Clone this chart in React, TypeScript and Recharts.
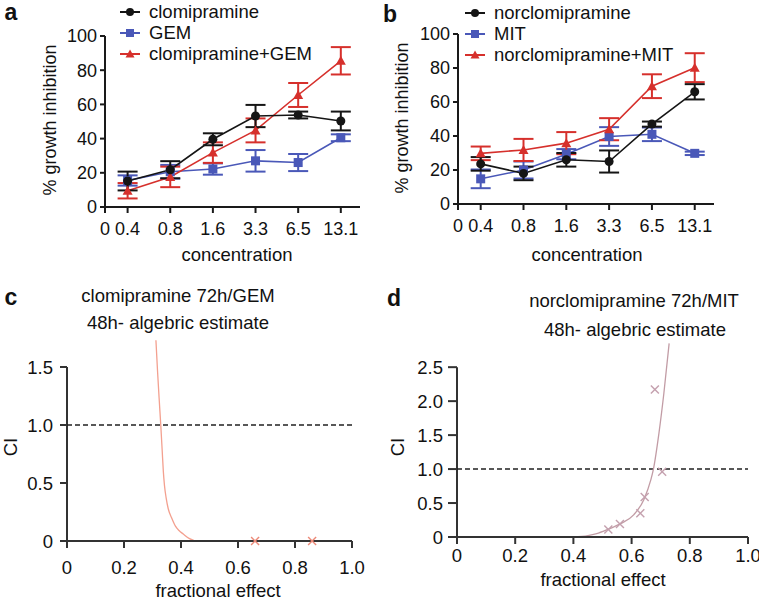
import React from 'react'
import {
  ComposedChart,
  Line,
  Scatter,
  XAxis,
  YAxis,
  ErrorBar,
  ReferenceLine
} from 'recharts'

const FONT = 'Arial, "Liberation Sans", Helvetica, sans-serif'
const BLACK = '#151515'
const BLUE = '#4a58b8'
const RED = '#d6302c'

const concentrations = ['0.4', '0.8', '1.6', '3.3', '6.5', '13.1']

// panel a
const clomipramine = [15.2, 21.8, 39.6, 53.2, 53.8, 50.3]
const clomipramineErr = [5.5, 5, 3.5, 6.5, 2, 5.5]
const gem = [15.5, 20.6, 22.2, 27, 26, 40.5]
const gemErr = [3, 4, 3.3, 6.3, 5, 2]
const clomiGem = [9.5, 17.6, 31.8, 44.8, 65.5, 85.5]
const clomiGemErr = [4.5, 6, 6, 7, 7, 8]

// panel b
const norclomipramine = [23.6, 18, 26, 25, 47, 66]
const norclomipramineErr = [4, 4, 4, 6.5, 1.5, 4.5]
const mit = [14.8, 20, 29.3, 39.7, 41, 29.8]
const mitErr = [5.5, 5, 3, 5.5, 4, 1]
const norclomiMit = [29.8, 31.8, 35.8, 44, 69.3, 80.2]
const norclomiMitErr = [4, 6.5, 6.5, 6.5, 7, 8.5]

// panel c (CI vs fractional effect)
const cCurveFe = [0.312, 0.318, 0.324, 0.329, 0.334, 0.338, 0.342, 0.348, 0.355, 0.367, 0.38, 0.393, 0.408, 0.43, 0.45]
const cCurveCi = [1.73, 1.45, 1.2, 1.0, 0.78, 0.6, 0.48, 0.37, 0.28, 0.2, 0.13, 0.09, 0.06, 0.02, 0]
const cPointFe = [0.66, 0.86]
const cPointCi = [0, 0]

// panel d
const dCurveFe = [0.4, 0.45, 0.48, 0.516, 0.562, 0.608, 0.642, 0.666, 0.675, 0.694, 0.711, 0.729]
const dCurveCi = [0, 0.02, 0.05, 0.108, 0.196, 0.33, 0.55, 0.84, 1.0, 1.53, 2.12, 2.85]
const dPointFe = [0.52, 0.56, 0.63, 0.645, 0.68, 0.705]
const dPointCi = [0.11, 0.19, 0.35, 0.59, 2.17, 0.96]

const growthTicks = [0, 20, 40, 60, 80, 100]
const feTicks = [0, 0.2, 0.4, 0.6, 0.8, 1.0]
const X_MIN = -0.53

type Shape = 'circle' | 'square' | 'triangle'

const Marker = ({ cx, cy, shape, color, size = 4.5 }: any) => {
  if (shape === 'square') {
    return <rect x={cx - size} y={cy - size} width={size * 2} height={size * 2} fill={color} />
  }
  if (shape === 'triangle') {
    const s = size + 0.5
    return <polygon points={`${cx},${cy - s} ${cx - s},${cy + s * 0.8} ${cx + s},${cy + s * 0.8}`} fill={color} />
  }
  return <circle cx={cx} cy={cy} r={size} fill={color} />
}

const dotFor = (shape: Shape, color: string) => (p: any) => (
  <Marker key={`m-${shape}-${p.index}`} cx={p.cx} cy={p.cy} shape={shape} color={color} />
)

const crossShape = (color: string) => (p: any) => (
  <g key={`x-${p.cx}-${p.cy}`} stroke={color} strokeWidth={1.4}>
    <line x1={p.cx - 4} y1={p.cy - 4} x2={p.cx + 4} y2={p.cy + 4} />
    <line x1={p.cx - 4} y1={p.cy + 4} x2={p.cx + 4} y2={p.cy - 4} />
  </g>
)

const abs = (left: number, top: number, extra: any = {}): React.CSSProperties => ({
  position: 'absolute',
  left,
  top,
  transform: 'translate(-50%, -50%)',
  whiteSpace: 'nowrap',
  lineHeight: 1,
  color: '#111',
  ...extra
})

const LegendBox = ({ left, top, items }: any) => (
  <div style={{ position: 'absolute', left, top }}>
    {items.map((it: any, i: number) => (
      <div key={it.label} style={{ position: 'absolute', top: i * 21, left: 0, display: 'flex', alignItems: 'center', height: 20, marginTop: -10 }}>
        <svg width={24} height={16} style={{ marginRight: 7 }}>
          <line x1={2} y1={8} x2={22} y2={8} stroke={it.color} strokeWidth={2} />
          <Marker cx={12} cy={8} shape={it.shape} color={it.color} size={4} />
        </svg>
        <span style={{ fontSize: 18.5, color: '#111', whiteSpace: 'nowrap' }}>{it.label}</span>
      </div>
    ))}
  </div>
)

const axisStyle = { stroke: '#1a1a1a', strokeWidth: 2 }

const GrowthPanel = ({ rows, keys, left, yWidth, right, top, xHeight }: any) => (
  <div style={{ position: 'absolute', left, top: 0 }}>
    <ComposedChart width={380} height={300} data={rows} margin={{ top, right, bottom: 0, left: 0 }}>
      <XAxis
        type="number"
        dataKey="pos"
        domain={[X_MIN, 5.45]}
        ticks={[X_MIN, 0, 1, 2, 3, 4, 5]}
        tickFormatter={(v: number) => (v < 0 ? '0' : concentrations[v])}
        height={xHeight}
        axisLine={axisStyle}
        tickLine={axisStyle}
        tickSize={6}
        tickMargin={9}
        tick={{ fontSize: 18, fill: '#111' }}
        interval={0}
      />
      <YAxis
        type="number"
        domain={[0, 100]}
        ticks={growthTicks}
        width={yWidth}
        axisLine={axisStyle}
        tickLine={axisStyle}
        tickSize={5}
        tickMargin={3}
        tick={{ fontSize: 18, fill: '#111' }}
        interval={0}
      />
      {keys.map((k: any) => (
        <Line
          key={k.key}
          dataKey={k.key}
          stroke={k.color}
          strokeWidth={1.6}
          dot={dotFor(k.shape, k.color)}
          activeDot={false}
          isAnimationActive={false}
        >
          <ErrorBar dataKey={k.key + 'Err'} direction="y" width={10} strokeWidth={2} stroke={k.color} />
        </Line>
      ))}
    </ComposedChart>
  </div>
)

const CiPanel = ({ left, width, curve, points, curveColor, pointColor, yTicks, yMax, yTop, yWidth, right, top, xHeight, xMargin, yTickSize, yMargin }: any) => (
  <div style={{ position: 'absolute', left, top: 300 }}>
    <ComposedChart width={width} height={300} margin={{ top, right, bottom: 0, left: 0 }}>
      <XAxis
        type="number"
        dataKey="fe"
        domain={[0, 1]}
        ticks={feTicks}
        tickFormatter={(v: number) => (v === 0 ? '0' : v.toFixed(1))}
        height={xHeight}
        axisLine={{ stroke: '#333', strokeWidth: 2 }}
        tickLine={{ stroke: '#333', strokeWidth: 2 }}
        tickSize={7}
        tickMargin={xMargin}
        tick={{ fontSize: 18.5, fill: '#111' }}
        interval={0}
      />
      <YAxis
        type="number"
        dataKey="ci"
        domain={[0, yMax]}
        ticks={yTicks}
        tickFormatter={(v: number) => (v === 0 ? '0' : v.toFixed(1))}
        width={yWidth}
        axisLine={false}
        tickLine={{ stroke: '#333', strokeWidth: 2 }}
        tickSize={yTickSize}
        tickMargin={yMargin}
        tick={{ fontSize: 18.5, fill: '#111' }}
        interval={0}
      />
      <ReferenceLine segment={[{ x: 0, y: 0 }, { x: 0, y: yTop }]} stroke="#333" strokeWidth={2} />
      <ReferenceLine y={1} stroke="#222" strokeWidth={1.5} strokeDasharray="5 3" />
      <Line
        data={curve}
        dataKey="ci"
        type="monotone"
        stroke={curveColor}
        strokeWidth={1.3}
        dot={false}
        activeDot={false}
        isAnimationActive={false}
      />
      <Scatter data={points} dataKey="ci" shape={crossShape(pointColor)} isAnimationActive={false} />
    </ComposedChart>
  </div>
)

const toRows = (fe: number[], ci: number[]) => fe.map((f, i) => ({ fe: f, ci: ci[i] }))

export default function App() {
  const rowsA = concentrations.map((c, i) => ({
    pos: i,
    clo: clomipramine[i],
    cloErr: clomipramineErr[i],
    gem: gem[i],
    gemErr: gemErr[i],
    combo: clomiGem[i],
    comboErr: clomiGemErr[i]
  }))
  const rowsB = concentrations.map((c, i) => ({
    pos: i,
    nor: norclomipramine[i],
    norErr: norclomipramineErr[i],
    mit: mit[i],
    mitErr: mitErr[i],
    combo: norclomiMit[i],
    comboErr: norclomiMitErr[i]
  }))

  return (
    <div style={{ position: 'absolute', left: 0, top: 0, width: 759, height: 600, background: '#fff', fontFamily: FONT, overflow: 'hidden' }}>
      <GrowthPanel
        rows={rowsA}
        left={0}
        yWidth={105}
        right={20}
        top={36}
        xHeight={93}
        keys={[
          { key: 'gem', color: BLUE, shape: 'square' },
          { key: 'combo', color: RED, shape: 'triangle' },
          { key: 'clo', color: BLACK, shape: 'circle' }
        ]}
      />
      <GrowthPanel
        rows={rowsB}
        left={380}
        yWidth={78}
        right={46}
        top={34}
        xHeight={96}
        keys={[
          { key: 'mit', color: BLUE, shape: 'square' },
          { key: 'combo', color: RED, shape: 'triangle' },
          { key: 'nor', color: BLACK, shape: 'circle' }
        ]}
      />
      <CiPanel
        left={0}
        width={380}
        curve={toRows(cCurveFe, cCurveCi)}
        points={toRows(cPointFe, cPointCi)}
        curveColor="#f3a08f"
        pointColor="#ec8a78"
        yTicks={[0, 0.5, 1.0, 1.5]}
        yMax={1.75}
        yTop={1.5}
        yWidth={67}
        right={28}
        top={38}
        xHeight={59}
        xMargin={13}
        yTickSize={7}
        yMargin={7}
      />
      <CiPanel
        left={380}
        width={379}
        curve={toRows(dCurveFe, dCurveCi)}
        points={toRows(dPointFe, dPointCi)}
        curveColor="#c29ca5"
        pointColor="#c4a0ae"
        yTicks={[0, 0.5, 1.0, 1.5, 2.0, 2.5]}
        yMax={2.9}
        yTop={2.5}
        yWidth={77}
        right={11}
        top={40}
        xHeight={63}
        xMargin={5}
        yTickSize={9}
        yMargin={5}
      />

      {/* panel letters */}
      <div style={abs(11, 12, { fontSize: 23, fontWeight: 'bold' })}>a</div>
      <div style={abs(390, 14, { fontSize: 23, fontWeight: 'bold' })}>b</div>
      <div style={abs(11, 297, { fontSize: 23, fontWeight: 'bold' })}>c</div>
      <div style={abs(394, 298, { fontSize: 23, fontWeight: 'bold' })}>d</div>

      <LegendBox
        left={118}
        top={12}
        items={[
          { label: 'clomipramine', color: BLACK, shape: 'circle' },
          { label: 'GEM', color: BLUE, shape: 'square' },
          { label: 'clomipramine+GEM', color: RED, shape: 'triangle' }
        ]}
      />
      <LegendBox
        left={463}
        top={13}
        items={[
          { label: 'norclomipramine', color: BLACK, shape: 'circle' },
          { label: 'MIT', color: BLUE, shape: 'square' },
          { label: 'norclomipramine+MIT', color: RED, shape: 'triangle' }
        ]}
      />

      {/* axis titles */}
      <div style={abs(50, 120, { fontSize: 18, transform: 'translate(-50%, -50%) rotate(-90deg)' })}>% growth inhibition</div>
      <div style={abs(402, 118, { fontSize: 18, transform: 'translate(-50%, -50%) rotate(-90deg)' })}>% growth inhibition</div>
      <div style={abs(237, 255, { fontSize: 18.5 })}>concentration</div>
      <div style={abs(587, 255, { fontSize: 18.5 })}>concentration</div>

      <div style={abs(178, 296, { fontSize: 18.5 })}>clomipramine 72h/GEM</div>
      <div style={abs(178, 323, { fontSize: 18.5 })}>48h- algebric estimate</div>
      <div style={abs(634, 301, { fontSize: 18.5 })}>norclomipramine 72h/MIT</div>
      <div style={abs(635, 330, { fontSize: 18.5 })}>48h- algebric estimate</div>

      <div style={abs(11, 447, { fontSize: 18.5, transform: 'translate(-50%, -50%) rotate(-90deg)' })}>CI</div>
      <div style={abs(398, 447, { fontSize: 18.5, transform: 'translate(-50%, -50%) rotate(-90deg)' })}>CI</div>
      <div style={abs(218, 591, { fontSize: 18.5 })}>fractional effect</div>
      <div style={abs(603, 580, { fontSize: 18.5 })}>fractional effect</div>
    </div>
  )
}
